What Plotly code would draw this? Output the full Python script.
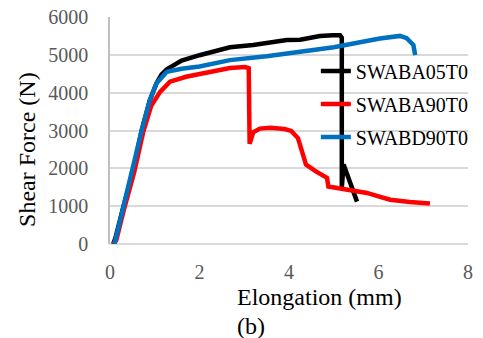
import plotly.graph_objects as go

# Data
series_names = ["SWABA05T0", "SWABA90T0", "SWABD90T0"]
colors = ["#000000", "#ff0000", "#0070c0"]

black_x = [0.07, 0.12, 0.3, 0.52, 0.71, 0.89, 1.04, 1.15, 1.27, 1.6, 2.0, 2.46, 2.68, 3.2, 3.95, 4.25, 4.69, 4.98, 5.14, 5.18, 5.18, 5.22, 5.52]
black_y = [0, 150, 990, 1950, 3010, 3800, 4250, 4480, 4620, 4850, 4990, 5130, 5200, 5260, 5390, 5400, 5500, 5520, 5520, 5450, 1500, 2100, 1120]

red_x = [0.07, 0.14, 0.32, 0.54, 0.74, 0.92, 1.12, 1.34, 1.7, 2.2, 2.68, 3.02, 3.1, 3.12, 3.2, 3.35, 3.58, 3.9, 4.05, 4.2, 4.3, 4.38, 4.6, 4.76, 4.85, 4.88, 5.3, 5.74, 6.0, 6.26, 6.7, 7.15]
red_y = [0, 100, 950, 1900, 2950, 3650, 4020, 4290, 4420, 4540, 4650, 4680, 4650, 2650, 2950, 3050, 3070, 3040, 2990, 2800, 2350, 2100, 1920, 1820, 1750, 1520, 1430, 1350, 1260, 1170, 1110, 1070]

blue_x = [0.1, 0.16, 0.3, 0.45, 0.71, 0.89, 1.04, 1.27, 1.6, 2.0, 2.46, 2.68, 3.5, 4.25, 5.0, 6.03, 6.48, 6.63, 6.78, 6.82]
blue_y = [0, 300, 1050, 1690, 3010, 3800, 4250, 4550, 4630, 4690, 4810, 4860, 4960, 5070, 5200, 5430, 5500, 5440, 5260, 4990]

x_ticks = [0, 2, 4, 6, 8]
y_ticks = [0, 1000, 2000, 3000, 4000, 5000, 6000]

FONT = "'Times New Roman', 'Liberation Serif', Tinos, 'DejaVu Serif', 'Noto Serif', serif"

fig = go.Figure()
for i, (xs, ys) in enumerate([(black_x, black_y), (red_x, red_y), (blue_x, blue_y)]):
    fig.add_trace(go.Scatter(
        x=xs, y=ys, mode="lines", name=series_names[i],
        line=dict(color=colors[i], width=4.5),
        legendgroup=series_names[i],
    ))

fig.update_layout(
    width=483, height=338,
    margin=dict(l=110, r=15, t=17, b=94, autoexpand=False),
    paper_bgcolor="white", plot_bgcolor="white",
    font=dict(family=FONT, size=20, color="#000000"),
    showlegend=True,
    legend=dict(
        x=0.575, y=0.848, xanchor="left", yanchor="top",
        bgcolor="rgba(0,0,0,0)", borderwidth=0,
        font=dict(family=FONT, size=20, color="#000000"),
        tracegroupgap=4, itemwidth=30,
    ),
    xaxis=dict(
        range=[0, 8], tickvals=x_ticks, showgrid=False, zeroline=False,
        showline=False, ticks="", ticklabelstandoff=14, automargin=False,
        tickfont=dict(family=FONT, size=20, color="#595959"),
        fixedrange=True,
    ),
    yaxis=dict(
        range=[0, 6000], tickvals=y_ticks, showgrid=True,
        gridcolor="#d9d9d9", gridwidth=1.5,
        zeroline=True, zerolinecolor="#d9d9d9", zerolinewidth=1.5,
        showline=True, linecolor="#bfbfbf", linewidth=1.5,
        ticks="", ticklabelstandoff=16, automargin=False,
        tickfont=dict(family=FONT, size=20, color="#595959"),
        fixedrange=True,
    ),
    annotations=[
        dict(text="Elongation (mm)", xref="paper", yref="paper",
             x=0.584, y=-0.233, xanchor="center", yanchor="middle",
             showarrow=False, font=dict(family=FONT, size=24, color="#000000")),
        dict(text="(b)", xref="paper", yref="paper",
             x=(235 - 110) / 358, y=-0.361, xanchor="left", yanchor="middle",
             showarrow=False, font=dict(family=FONT, size=24, color="#000000")),
        dict(text="Shear Force (N)", xref="paper", yref="paper",
             x=-0.232, y=0.4185, xanchor="center", yanchor="middle",
             textangle=-90,
             showarrow=False, font=dict(family=FONT, size=24, color="#000000")),
    ],
)

fig.write_html("out.html")
